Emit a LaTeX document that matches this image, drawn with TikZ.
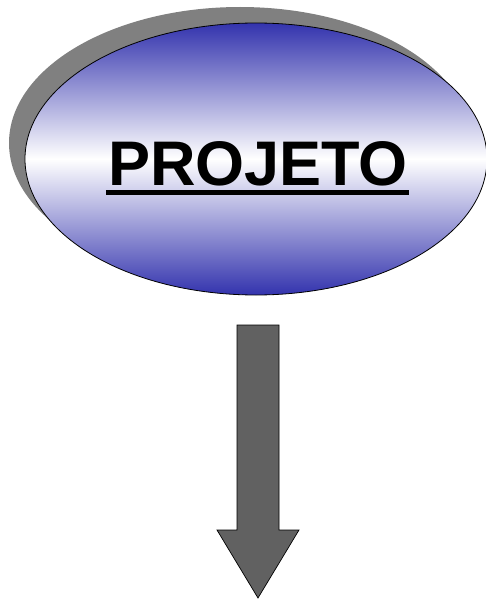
\documentclass[tikz,border=0pt]{standalone}
\usepackage{fontspec}
\setmainfont{Liberation Sans}

\begin{document}
\begin{tikzpicture}[x=1pt,y=-1pt,
  shadowfill/.style={fill=black!50},
  bubble/.style={draw=black,line width=0.8pt,top color=blue!60!black!80,bottom color=blue!60!black!80,middle color=white},
  blockarrow/.style={draw=black,fill=black!62,line width=0.7pt}]
\useasboundingbox (0,0) rectangle (486,599);
\fill[shadowfill] (240.000,143.000) ellipse (231 and 136);
\draw[bubble] (256.000,159.000) ellipse (231 and 136);
\node[font=\fontsize{63}{63}\selectfont\bfseries,inner sep=0pt,anchor=base] (word) at (258.000,185.000) {PROJETO};
\draw[line width=5pt] ([xshift=-2pt,yshift=-7.5pt]word.base west) -- ([xshift=1pt,yshift=-7.5pt]word.base east);
\draw[blockarrow] (237.000,325.000) -- (279.000,325.000) -- (279.000,530.000) -- (299.000,530.000)
  -- (258.000,598.000) -- (217.000,530.000) -- (237.000,530.000) -- cycle;
\end{tikzpicture}
\end{document}
